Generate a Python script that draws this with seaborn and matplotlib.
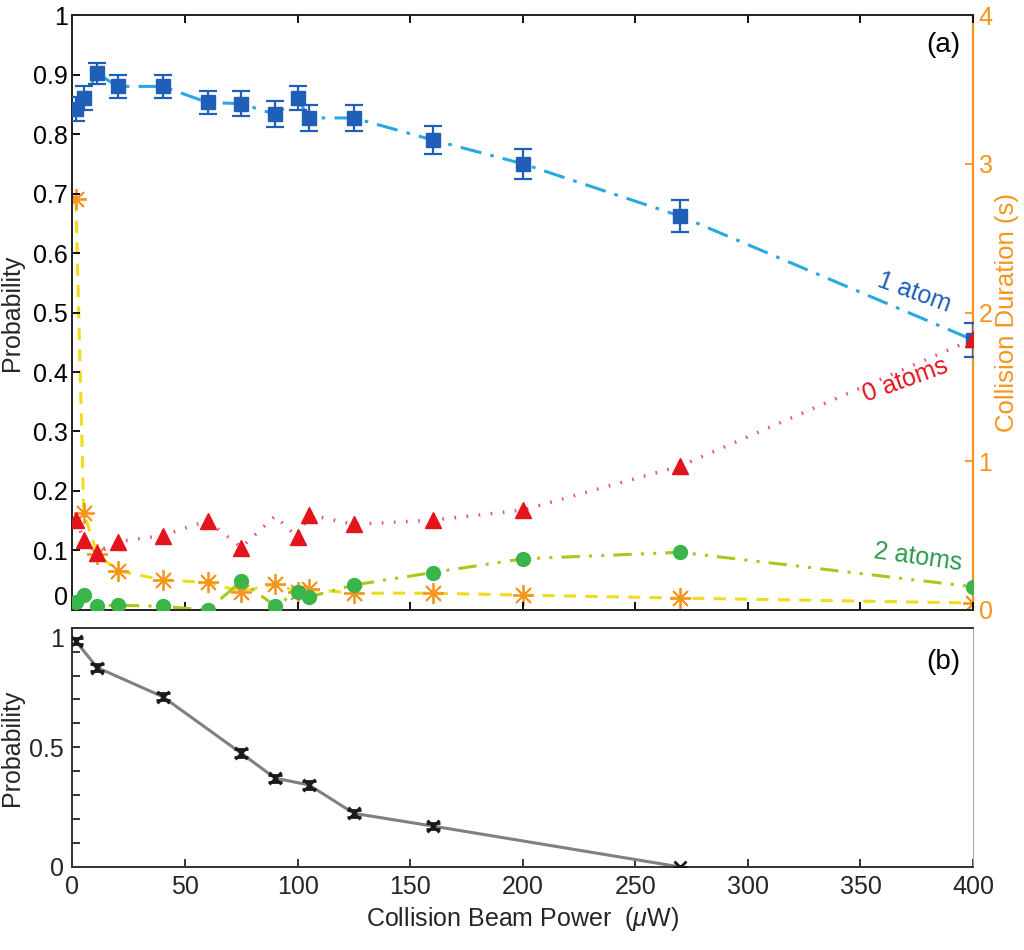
import numpy as np
import pandas as pd
import matplotlib
matplotlib.use("Agg")
import matplotlib.pyplot as plt
import seaborn as sns

# ---------------- data ----------------
power = [1.5, 5, 11, 20, 40, 60, 75, 90, 100, 105, 125, 160, 200, 270, 400]

one_atom = [0.842, 0.861, 0.902, 0.880, 0.880, 0.853, 0.851, 0.833, 0.860, 0.827, 0.827, 0.790, 0.750, 0.662, 0.454]
one_atom_err = [0.020, 0.020, 0.018, 0.020, 0.019, 0.020, 0.021, 0.022, 0.020, 0.022, 0.022, 0.023, 0.025, 0.027, 0.028]

zero_atoms = [0.152, 0.118, 0.095, 0.115, 0.125, 0.150, 0.105, 0.158, 0.122, 0.160, 0.144, 0.151, 0.168, 0.242, 0.455]
zero_marker = [True, True, True, True, True, True, True, False, True, True, True, True, True, True, True]

two_atoms = [0.014, 0.026, 0.007, 0.008, 0.006, 0.000, 0.048, 0.007, 0.030, 0.022, 0.042, 0.063, 0.086, 0.097, 0.039]

duration = [2.76, 0.653, 0.376, 0.264, 0.203, 0.185, 0.124, 0.174, 0.124, 0.140, 0.113, 0.113, 0.100, 0.080, 0.047]

power_b = [1.5, 11, 40, 75, 90, 105, 125, 160, 270]
prob_b = [0.943, 0.833, 0.712, 0.475, 0.371, 0.343, 0.224, 0.171, 0.0]
prob_b_err = [0.012, 0.014, 0.015, 0.016, 0.015, 0.016, 0.015, 0.014, 0.0]

xticks = [0, 50, 100, 150, 200, 250, 300, 350, 400]
yticks_a = [0, 0.1, 0.2, 0.3, 0.4, 0.5, 0.6, 0.7, 0.8, 0.9, 1]
yticklabels_a = ["0", "0.1", "0.2", "0.3", "0.4", "0.5", "0.6", "0.7", "0.8", "0.9", "1"]
yticks_r = [0, 1, 2, 3, 4]
yticks_b = [0, 0.1, 0.2, 0.3, 0.4, 0.5, 0.6, 0.7, 0.8, 0.9, 1.0]
yticklabels_b = ["0", "", "", "", "", "0.5", "", "", "", "", "1"]

# ---------------- style ----------------
sns.set_theme(style="ticks")
plt.rcParams["font.family"] = ["Liberation Sans", "DejaVu Sans"]
plt.rcParams["mathtext.fontset"] = "custom"
plt.rcParams["mathtext.it"] = "Liberation Sans:italic"
plt.rcParams["mathtext.rm"] = "Liberation Sans"

BLUE_M = "#1f5fb8"
BLUE_L = "#2aa8e0"
RED_M = "#e4141c"
RED_L = "#f0508c"
GREEN_M = "#3ab54a"
GREEN_L = "#a8c81c"
GREEN_T = "#2a9a4a"
ORANGE = "#f7941d"
YELLOW = "#f0dc1e"

fig = plt.figure(figsize=(10.24, 9.5), dpi=100)
ax = fig.add_axes([0.0708, 0.3579, 0.8794, 0.6263])
axb = fig.add_axes([0.0708, 0.0874, 0.8794, 0.2519])
axr = ax.twinx()

df = pd.DataFrame({"power": power, "one": one_atom, "zero": zero_atoms,
                   "two": two_atoms, "dur": duration})

# collision duration (right axis)
sns.lineplot(data=df, x="power", y="dur", ax=axr, color=YELLOW, lw=2.2,
             linestyle=(0, (4, 3)), sort=False, estimator=None, zorder=1)
axr.plot(df["power"], df["dur"], ls="none", marker=(8, 2, 0), ms=15, mew=1.3,
         color=ORANGE, zorder=2)

# lines on main axis
sns.lineplot(data=df, x="power", y="zero", ax=ax, color=RED_L, lw=2.5,
             linestyle=(0, (0.5, 3)), sort=False, estimator=None, zorder=2)
sns.lineplot(data=df, x="power", y="two", ax=ax, color=GREEN_L, lw=2.2,
             linestyle=(0, (6, 3, 1, 3, 1, 3)), sort=False, estimator=None, zorder=2)
sns.lineplot(data=df, x="power", y="one", ax=ax, color=BLUE_L, lw=2.2,
             linestyle=(0, (7, 3, 1.2, 3)), sort=False, estimator=None, zorder=2)

mask = np.array(zero_marker)
ax.plot(np.array(power)[mask], np.array(zero_atoms)[mask], ls="none", marker="^",
        ms=11, color=RED_M, zorder=4)
ax.plot(power, two_atoms, ls="none", marker="o", ms=10, color=GREEN_M, zorder=4)
ax.errorbar(power, one_atom, yerr=one_atom_err, fmt="s", ms=10, color=BLUE_M,
            ecolor=BLUE_M, elinewidth=1.6, capsize=6.5, capthick=1.6, zorder=3)

# bring main axis above twin
ax.set_zorder(axr.get_zorder() + 1)
ax.patch.set_visible(False)

ax.set_xlim(0, 400)
ax.set_ylim(0, 1)
ax.set_xticks(xticks)
ax.set_xticklabels([])
ax.set_yticks(yticks_a)
ax.set_yticklabels(yticklabels_a)
ax.tick_params(direction="in", length=6, width=1.3, labelsize=18, top=True,
               right=False, colors="black")
ax.set_xlabel("")
ax.set_ylabel("Probability", fontsize=18)
ax.yaxis.set_label_coords(-0.054, 0.5)
for s in ["left", "bottom", "top"]:
    ax.spines[s].set_linewidth(1.4)
    ax.spines[s].set_color("#222222")
ax.spines["right"].set_visible(False)
# lift the bottom "0" label a little, as in the reference
ax.get_yticklabels()[0].set_va("bottom")

axr.set_ylim(0, 4)
axr.set_yticks(yticks_r)
axr.tick_params(axis="y", direction="in", length=6, width=1.3, labelsize=18,
                colors=ORANGE, pad=4)
axr.set_ylabel("Collision Duration (s)", fontsize=18.5, color=ORANGE)
axr.yaxis.set_label_coords(1.0244, 0.5)
axr.set_xlabel("")
axr.spines["right"].set_color(ORANGE)
axr.spines["right"].set_linewidth(1.6)
for s in ["left", "top", "bottom"]:
    axr.spines[s].set_visible(False)

ax.text(374, 0.534, "1 atom", color=BLUE_M, fontsize=18, rotation=-20,
        ha="center", va="center")
ax.text(370, 0.387, "0 atoms", color=RED_M, fontsize=18, rotation=20,
        ha="center", va="center")
ax.text(375.5, 0.089, "2 atoms", color=GREEN_T, fontsize=18, rotation=-8,
        ha="center", va="center")
ax.text(387, 0.95, "(a)", color="black", fontsize=20, ha="center", va="center")

# ---------------- panel (b) ----------------
sns.lineplot(x=power_b, y=prob_b, ax=axb, color="#808080", lw=2.2, sort=False,
             estimator=None, zorder=2)
axb.errorbar(power_b, prob_b, yerr=prob_b_err, fmt="x", ms=8, mew=2,
             color="#1a1a1a", ecolor="#1a1a1a", elinewidth=1.5, capsize=5,
             capthick=2.5, zorder=3)
axb.set_xlim(0, 400)
axb.set_ylim(0, 1)
axb.set_xticks(xticks)
axb.set_xticklabels([str(t) for t in xticks])
axb.set_yticks(yticks_b)
axb.set_yticklabels(yticklabels_b)
axb.tick_params(direction="in", length=6, width=1.3, labelsize=18, pad=6)
axb.set_ylabel("Probability", fontsize=18)
axb.yaxis.set_label_coords(-0.054, 0.5)
axb.set_xlabel(r"Collision Beam Power  ($\mathit{\mu}$W)", fontsize=18, labelpad=4)
for s in ["left", "bottom", "top"]:
    axb.spines[s].set_linewidth(1.4)
    axb.spines[s].set_color("#333333")
axb.spines["right"].set_linewidth(0.8)
axb.spines["right"].set_color("#aaaaaa")
axb.get_yticklabels()[-1].set_va("top")
axb.text(387, 0.857, "(b)", color="black", fontsize=20, ha="center", va="center")

fig.savefig("out.png", dpi=100)
